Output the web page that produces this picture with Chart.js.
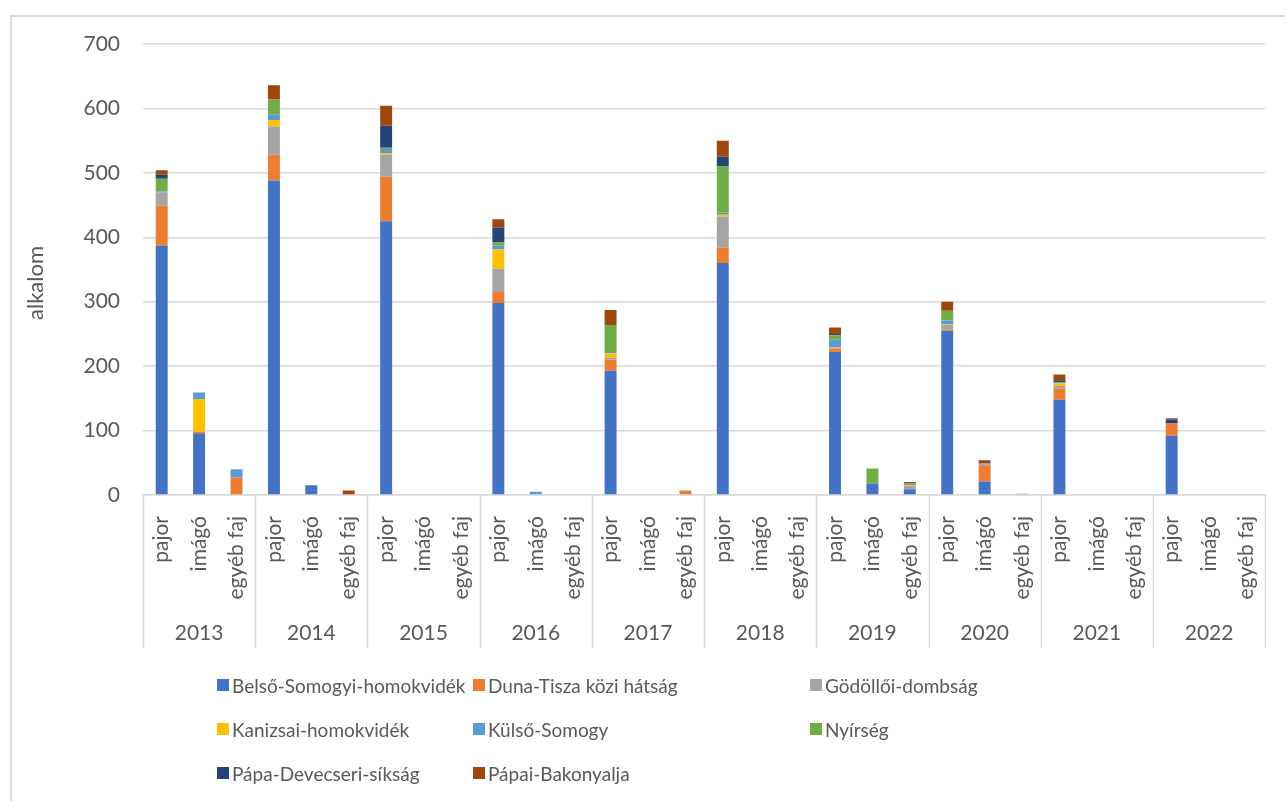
<!DOCTYPE html>
<html>
<head>
<meta charset="utf-8">
<title>alkalom</title>
<script src="https://cdn.jsdelivr.net/npm/chart.js@4.4.0/dist/chart.umd.min.js"></script>
<style>
  body { margin: 0; background: #fff; font-family: Lato, "Open Sans", sans-serif; }
  #wrap { position: relative; width: 1285px; height: 801px; overflow: hidden; }
  #frame { position: absolute; left: 10px; top: 15px; width: 1300px; height: 820px; border: 2px solid #d9d9d9; box-sizing: border-box; }
  #legend { position: absolute; left: 0; top: 0; }
  .item { position: absolute; display: flex; align-items: center; font-size: 19px; color: #595959; white-space: nowrap; height: 24px; }
  .box { width: 12px; height: 12px; margin-right: 3px; }
</style>
</head>
<body>
<div id="wrap">
  <div id="frame"></div>
  <canvas id="chart" width="1285" height="801" style="position:absolute;left:0;top:0"></canvas>
  <div id="legend"></div>
</div>
<script>
var years = ["2013", "2014", "2015", "2016", "2017", "2018", "2019", "2020", "2021", "2022"];
var types = ["pajor", "imágó", "egyéb faj"];
var yTicks = [0, 100, 200, 300, 400, 500, 600, 700];
var yTitle = "alkalom";

var seriesNames = ["Belső-Somogyi-homokvidék", "Duna-Tisza közi hátság", "Gödöllői-dombság",
	"Kanizsai-homokvidék", "Külső-Somogy", "Nyírség", "Pápa-Devecseri-síkság", "Pápai-Bakonyalja"];
var seriesColors = ["#4472C4", "#ED7D31", "#A5A5A5", "#FFC000", "#5B9BD5", "#70AD47", "#264478", "#9E480E"];

// per year: pajor, imágó, egyéb faj
var belsoSomogyi = [387, 96, 0, 488, 15, 0, 425, 0, 0, 298, 1, 0, 193, 0, 0, 360, 0, 0, 222, 18, 9, 255, 21, 0, 148, 0, 0, 92, 0, 0];
var dunaTisza = [62, 2, 27, 40, 0, 0, 69, 0, 0, 17, 0, 0, 17, 0, 7, 24, 0, 1, 5, 0, 0, 2, 25, 2, 17, 0, 0, 19, 1, 0];
var godolloi = [21, 0, 0, 44, 0, 0, 34, 0, 0, 36, 0, 0, 3, 0, 0, 48, 0, 0, 1, 0, 5, 7, 1, 0, 4, 0, 0, 0, 0, 0];
var kanizsai = [0, 51, 0, 10, 0, 0, 3, 0, 0, 30, 0, 0, 7, 0, 0, 3, 0, 0, 1, 0, 1, 1, 0, 0, 4, 0, 0, 0, 0, 0];
var kulsoSomogy = [1, 10, 13, 8, 0, 0, 6, 0, 0, 6, 4, 0, 2, 0, 0, 3, 0, 0, 12, 0, 2, 6, 2, 0, 1, 0, 0, 0, 0, 0];
var nyirseg = [20, 0, 0, 24, 0, 0, 2, 0, 0, 5, 0, 0, 42, 0, 0, 72, 0, 0, 7, 23, 1, 15, 0, 0, 1, 0, 0, 0, 0, 0];
var papaDevecser = [6, 0, 0, 0, 0, 0, 34, 0, 0, 23, 0, 0, 0, 0, 0, 15, 0, 0, 2, 0, 0, 0, 0, 0, 3, 0, 0, 6, 0, 0];
var papaiBakony = [7, 0, 0, 22, 0, 7, 31, 0, 0, 13, 0, 0, 23, 0, 0, 25, 0, 0, 10, 0, 2, 14, 5, 0, 9, 0, 0, 2, 0, 0];

var seriesValues = [belsoSomogyi, dunaTisza, godolloi, kanizsai, kulsoSomogy, nyirseg, papaDevecser, papaiBakony];

var labels = [];
years.forEach(function () { types.forEach(function (t) { labels.push(t); }); });

var textColor = "#595959";
var gridColor = "#d9d9d9";
var axisFont = { family: "Lato", size: 21 };
var xAxisHeight = 153;

var datasets = seriesNames.map(function (name, i) {
	return {
		label: name,
		data: seriesValues[i],
		backgroundColor: seriesColors[i],
		borderWidth: 0,
		barPercentage: 0.32,
		categoryPercentage: 1.0
	};
});

// year row + separators under the rotated labels, and the y title
var yearGroups = {
	id: "yearGroups",
	afterDraw: function (chart) {
		var ctx = chart.ctx;
		var x = chart.scales.x;
		var top = chart.chartArea.bottom;
		var step = x.width / labels.length;
		ctx.save();
		ctx.strokeStyle = gridColor;
		ctx.lineWidth = 1.5;
		for (var g = 0; g <= years.length; g++) {
			var px = Math.round(x.left + g * types.length * step) + 0.5;
			ctx.beginPath();
			ctx.moveTo(px, top);
			ctx.lineTo(px, top + xAxisHeight);
			ctx.stroke();
		}
		ctx.fillStyle = textColor;
		ctx.font = axisFont.size + "px " + axisFont.family;
		ctx.textAlign = "center";
		ctx.textBaseline = "middle";
		years.forEach(function (yr, g) {
			ctx.fillText(yr, x.getPixelForTick(g * types.length + 1), top + 138);
		});
		// y title a bit below the plot middle, like the original
		ctx.translate(36, 283);
		ctx.rotate(-Math.PI / 2);
		ctx.font = "22px Lato";
		ctx.fillText(yTitle, 0, 0);
		ctx.restore();
	}
};

new Chart(document.getElementById("chart"), {
	type: "bar",
	data: { labels: labels, datasets: datasets },
	plugins: [yearGroups],
	options: {
		responsive: false,
		animation: false,
		layout: { padding: { left: 0, right: 19, top: 44, bottom: 801 - 495 - xAxisHeight } },
		plugins: { legend: { display: false }, tooltip: { enabled: false } },
		scales: {
			x: {
				stacked: true,
				grid: { display: false },
				border: { display: true, color: gridColor, width: 1.5 },
				ticks: {
					autoSkip: false, minRotation: 90, maxRotation: 90,
					padding: 13, color: textColor, font: axisFont
				},
				afterFit: function (s) { s.height = xAxisHeight; }
			},
			y: {
				stacked: true,
				min: 0, max: 700,
				afterBuildTicks: function (s) { s.ticks = yTicks.map(function (v) { return { value: v }; }); },
				grid: { color: gridColor, lineWidth: 1.5, drawTicks: false },
				border: { display: false },
				ticks: { padding: 23, color: textColor, font: axisFont },
				afterFit: function (s) { s.width = 143; }
			}
		}
	}
});

// legend, three columns like the original
var legendCols = [217, 473, 810];
var legendRows = [685, 729, 773];
var legend = document.getElementById("legend");
seriesNames.forEach(function (name, i) {
	var el = document.createElement("div");
	el.className = "item";
	el.style.left = legendCols[i % 3] + "px";
	el.style.top = (legendRows[Math.floor(i / 3)] - 12) + "px";
	el.innerHTML = '<span class="box" style="background:' + seriesColors[i] + '"></span>' + name;
	legend.appendChild(el);
});
</script>
</body>
</html>
